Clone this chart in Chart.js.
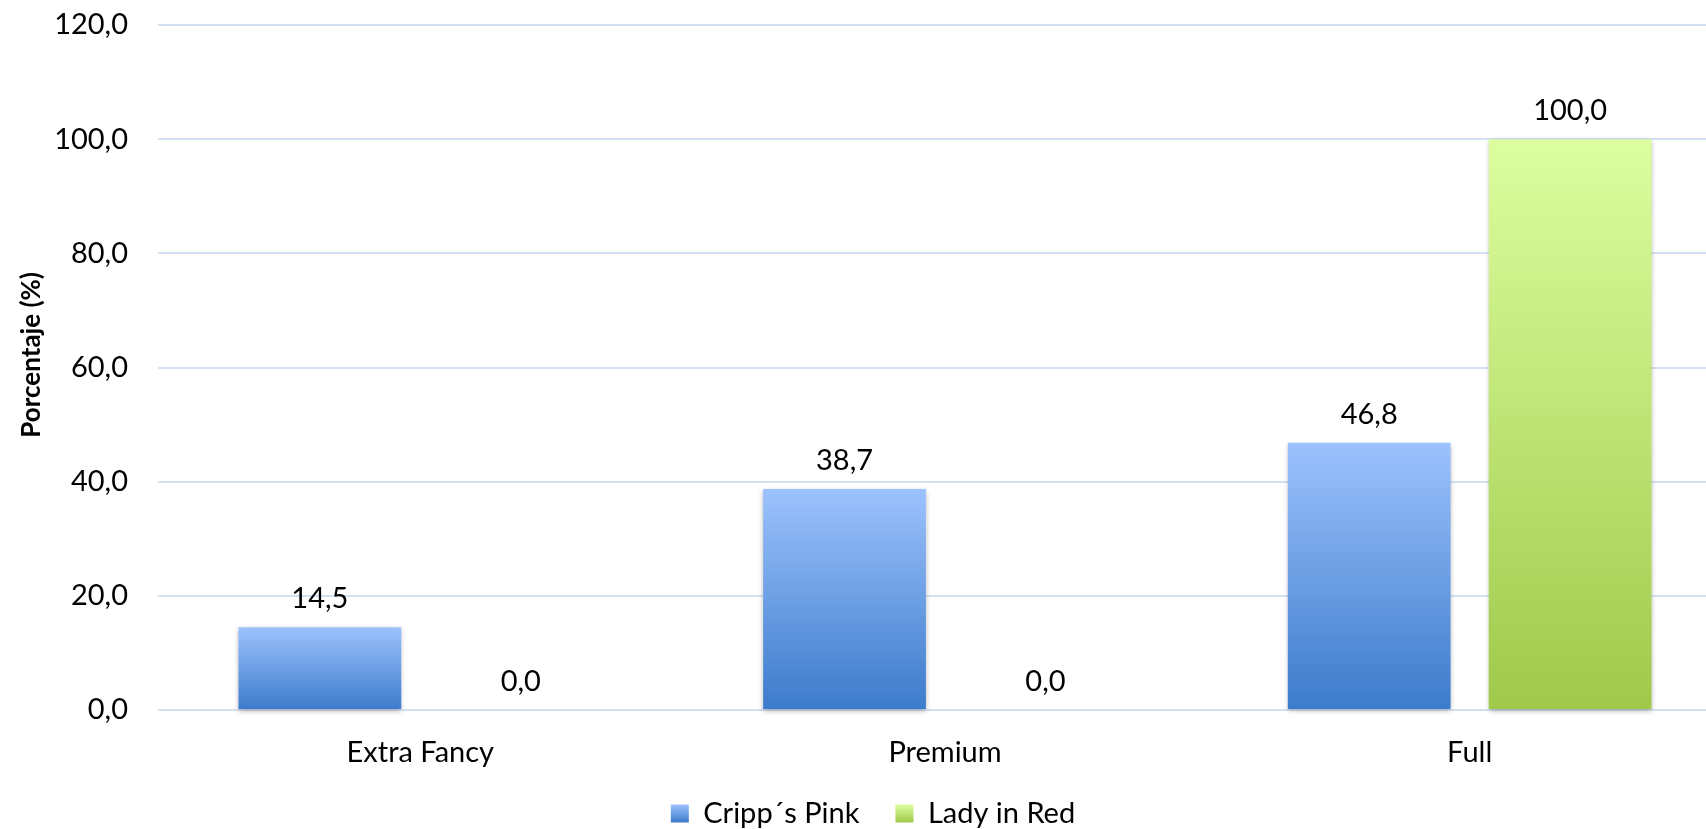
<!DOCTYPE html>
<html><head><meta charset="utf-8">
<script src="https://cdn.jsdelivr.net/npm/chart.js@4/dist/chart.umd.min.js"></script>
<style>html,body{margin:0;padding:0;overflow:hidden;background:#fff}#wrap{width:1746px;height:829px;position:relative}</style>
</head><body><div id="wrap"><canvas id="c"></canvas></div>
<script>
const categories = ['Extra Fancy', 'Premium', 'Full'];
const crippsPink = [14.5, 38.7, 46.8];
const ladyInRed = [0.0, 0.0, 100.0];
const seriesNames = ['Cripp\u00b4s Pink', 'Lady in Red'];
const yAxisTitle = '    Porcentaje (%)';
const yMin = 0, yMax = 120, yStep = 20;

const FONT = 'Lato';
const FS = 29;
const LEG_H = 66;      // legend box height
const LEG_PAD = 36;    // legend padding
const X_H = 53;        // x axis height
const fmt = v => Number(v).toFixed(1).replace('.', ',');

const BLUE = ['#9CC2FD', '#3C7BCB'];
const GREEN = ['#DCFEA0', '#A0C94A'];

function grad(cols) {
  return function (ctx) {
    const chart = ctx.chart;
    const y = chart.scales && chart.scales.y;
    if (!y || ctx.raw === undefined) return cols[1];
    const yTop = y.getPixelForValue(ctx.raw);
    const y0 = y.getPixelForValue(0);
    if (!isFinite(yTop) || !isFinite(y0) || Math.abs(y0 - yTop) < 1) return cols[1];
    const g = chart.ctx.createLinearGradient(0, yTop, 0, y0);
    g.addColorStop(0, cols[0]);
    g.addColorStop(1, cols[1]);
    return g;
  };
}

const legendFit = {
  id: 'legendFit',
  beforeLayout(chart) {
    const lg = chart.legend;
    if (lg && !lg._fixedFit) {
      const f = lg.fit.bind(lg);
      lg.fit = function () { f(); this.height = LEG_H; };
      lg._fixedFit = true;
    }
  }
};

const barEffects = {
  id: 'barEffects',
  beforeDatasetsDraw(chart) {
    const c = chart.ctx;
    c.save();
    c.shadowColor = 'rgba(0,0,0,0.28)';
    c.shadowBlur = 5;
    c.shadowOffsetX = 0;
    c.shadowOffsetY = 2;
  },
  afterDatasetsDraw(chart) {
    const c = chart.ctx;
    c.restore();
    c.save();
    c.font = FS + 'px ' + FONT;
    c.fillStyle = '#000';
    c.textAlign = 'center';
    c.textBaseline = 'alphabetic';
    chart.data.datasets.forEach((ds, i) => {
      chart.getDatasetMeta(i).data.forEach((bar, j) => {
        c.fillText(fmt(ds.data[j]), bar.x, bar.y - 19);
      });
    });
    c.restore();
  }
};

new Chart(document.getElementById('c'), {
  type: 'bar',
  data: {
    labels: categories,
    datasets: [
      { label: seriesNames[0], data: crippsPink, backgroundColor: grad(BLUE), borderWidth: 0, clip: false },
      { label: seriesNames[1], data: ladyInRed, backgroundColor: grad(GREEN), borderWidth: 0, clip: false }
    ]
  },
  options: {
    responsive: true,
    maintainAspectRatio: false,
    animation: false,
    categoryPercentage: 0.766,
    barPercentage: 0.81,
    layout: { padding: { top: 25, right: 14, left: 14, bottom: 0 } },
    plugins: {
      legend: {
        position: 'bottom',
        labels: {
          boxWidth: 18, boxHeight: 18, padding: LEG_PAD,
          color: '#000',
          font: { family: FONT, size: FS, lineHeight: 1 },
          generateLabels(chart) {
            const by = chart.height - LEG_H + LEG_PAD + (FS - 18) / 2;
            return seriesNames.map((n, i) => {
              const cols = i ? GREEN : BLUE;
              const g = chart.ctx.createLinearGradient(0, by, 0, by + 18);
              g.addColorStop(0, cols[0]);
              g.addColorStop(1, cols[1]);
              return { text: n, fillStyle: g, strokeStyle: 'rgba(0,0,0,0)', lineWidth: 0, datasetIndex: i, hidden: false };
            });
          }
        }
      },
      tooltip: { enabled: false }
    },
    scales: {
      x: {
        grid: { display: false, drawTicks: false },
        border: { display: false },
        ticks: { color: '#000', font: { family: FONT, size: FS }, padding: 25 },
        afterFit(scale) {
          scale.height = X_H;
          scale._computeLabelArea = function () { return undefined; };
        }
      },
      y: {
        min: yMin, max: yMax,
        ticks: { stepSize: yStep, color: '#000', font: { family: FONT, size: FS }, padding: 0, callback: v => fmt(v) },
        grid: { color: '#D5E1F2', lineWidth: 2, drawTicks: true, tickLength: 30, tickColor: 'rgba(0,0,0,0)' },
        border: { display: false },
        title: { display: true, text: yAxisTitle, color: '#000', font: { family: FONT, size: 26, weight: 'bold' }, padding: { top: 2, bottom: 0 } },
        afterFit(scale) { scale.width = 144; }
      }
    }
  },
  plugins: [legendFit, barEffects]
});
</script></body></html>
